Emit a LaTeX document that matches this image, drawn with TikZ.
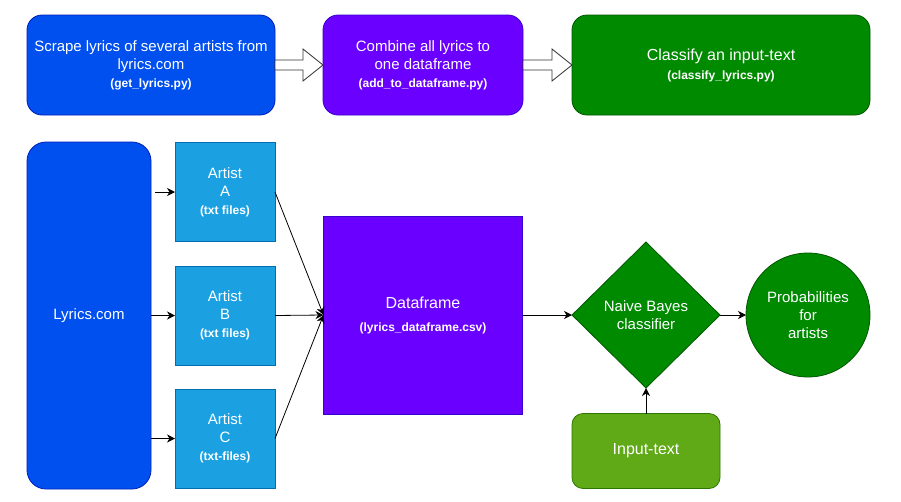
\documentclass[tikz,border=0pt]{standalone}
\usepackage{fontspec}
\setmainfont{Liberation Sans}
\usetikzlibrary{shapes.geometric,arrows.meta}
\definecolor{cblue}{HTML}{0050EF}
\definecolor{cbluestroke}{HTML}{001DBC}
\definecolor{cpurple}{HTML}{6A00FF}
\definecolor{cpurplestroke}{HTML}{3700CC}
\definecolor{cgreen}{HTML}{008A00}
\definecolor{cgreenstroke}{HTML}{005700}
\definecolor{clblue}{HTML}{1BA1E2}
\definecolor{clbluestroke}{HTML}{006EAF}
\definecolor{clgreen}{HTML}{60A917}
\definecolor{clgreenstroke}{HTML}{2D7600}
\newcommand{\subtxt}[1]{{\fontsize{12}{15}\selectfont\bfseries #1}}
\tikzset{
  box/.style={inner sep=0pt, outer sep=0pt, align=center, text=white, line width=0.8pt,
    font=\fontsize{15}{18}\selectfont},
  bluebox/.style={box, fill=cblue, draw=cbluestroke},
  purplebox/.style={box, fill=cpurple, draw=cpurplestroke},
  greenbox/.style={box, fill=cgreen, draw=cgreenstroke},
  artistbox/.style={box, fill=clblue, draw=clbluestroke, minimum width=100pt, minimum height=99pt},
  conn/.style={line width=0.8pt, -{Stealth[length=8pt,width=8pt,inset=2.5pt]}},
  blockarrow/.style={draw=black!80, fill=white, line width=0.8pt, line join=miter}
}
\begin{document}
\begin{tikzpicture}[x=1pt,y=-1pt]
\useasboundingbox (0,0) rectangle (901,501);
% top row
\node[bluebox, rounded corners=15pt, minimum width=248pt, minimum height=100pt] (b1) at (151,65)
  {Scrape lyrics of several artists from\\ lyrics.com\\ \subtxt{(get\_lyrics.py)}};
\node[purplebox, rounded corners=15pt, minimum width=200pt, minimum height=100pt] (b2) at (423,65)
  {Combine all lyrics to\\ one dataframe\\ \subtxt{(add\_to\_dataframe.py)}};
\node[greenbox, rounded corners=15pt, minimum width=298pt, minimum height=100pt,
  font=\fontsize{16}{19}\selectfont] (b3) at (721,65)
  {Classify an input-text\\ \subtxt{(classify\_lyrics.py)}};
% block arrows
\draw[blockarrow] ([yshift=5pt]b1.east) -- ([yshift=5pt,xshift=-20pt]b2.west)
  -- ([yshift=16pt,xshift=-20pt]b2.west) -- (b2.west)
  -- ([yshift=-16pt,xshift=-20pt]b2.west) -- ([yshift=-5pt,xshift=-20pt]b2.west)
  -- ([yshift=-5pt]b1.east) -- cycle;
\draw[blockarrow] ([yshift=5pt]b2.east) -- ([yshift=5pt,xshift=-20pt]b3.west)
  -- ([yshift=16pt,xshift=-20pt]b3.west) -- (b3.west)
  -- ([yshift=-16pt,xshift=-20pt]b3.west) -- ([yshift=-5pt,xshift=-20pt]b3.west)
  -- ([yshift=-5pt]b2.east) -- cycle;
% bottom
\node[bluebox, rounded corners=19pt, minimum width=124pt, minimum height=347pt] (lyr) at (89,315.5) {Lyrics.com};
\node[artistbox] (aa) at (225,192) {Artist\\ A\\ \subtxt{(txt files)}};
\node[artistbox] (ab) at (225,315.5) {Artist\\ B\\ \subtxt{(txt files)}};
\node[artistbox] (ac) at (225,438.5) {Artist\\ C\\ \subtxt{(txt-files)}};
\node[purplebox, minimum width=199pt, minimum height=198pt, font=\fontsize{16}{19}\selectfont] (df) at (423,315)
  {Dataframe\\[4pt] \subtxt{(lyrics\_dataframe.csv)}};
\node[greenbox, diamond, minimum width=148pt, minimum height=146pt] (nb) at (646,315) {Naive Bayes\\ classifier};
\node[greenbox, circle, minimum size=124pt] (pr) at (808,315) {Probabilities\\ for\\ artists};
\node[box, fill=clgreen, draw=clgreenstroke, rounded corners=11pt, minimum width=148pt, minimum height=75pt,
  font=\fontsize{16}{19}\selectfont] (inp) at (646,451) {Input-text};
% connectors
\draw[conn] ([xshift=4pt]lyr.east |- aa.west) -- (aa.west);
\draw[conn] (lyr.east |- ab.west) -- (ab.west);
\draw[conn] (lyr.east |- ac.west) -- (ac.west);
\draw[conn] (aa.east) -- (df.west);
\draw[conn] (ab.east) -- (df.west);
\draw[conn] (ac.east) -- (df.west);
\draw[conn] (df.east) -- (nb.west);
\draw[conn] (nb.east) -- (pr.west);
\draw[conn] (inp.north) -- (nb.south);
\end{tikzpicture}
\end{document}
